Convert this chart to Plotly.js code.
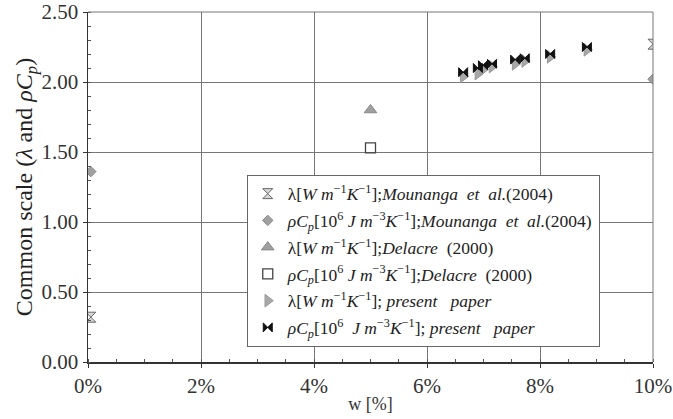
<!DOCTYPE html>
<html><head><meta charset="utf-8">
<script src="https://cdn.plot.ly/plotly-3.0.1.min.js"></script>
<style>html,body{margin:0;padding:0;background:#fff}#c{width:673px;height:419px}</style>
</head><body><div id="c"></div>
<script>
// Mounanga et al. (2004)
const mounW = [0.05, 10];
const mounLambda = [0.32, 2.27];
const mounRhoW = [0.05, 10];
const mounRho = [1.36, 2.02];
// Delacre (2000)
const delW = [5];
const delLambda = [1.80];
const delRho = [1.53];
// present paper
const presW = [6.64, 6.90, 6.99, 7.15, 7.56, 7.73, 8.18, 8.83];
const presLambda = [2.04, 2.06, 2.09, 2.11, 2.13, 2.15, 2.18, 2.23];
const presRho = [2.07, 2.10, 2.12, 2.13, 2.16, 2.17, 2.20, 2.25];

const legendNames = [
  "λ[<i>W m</i><sup>−1</sup><i>K</i><sup>−1</sup>];<i>Mounanga  et  al.</i>(2004)",
  "<i>ρC</i><sub><i>p</i></sub>[10<sup>6</sup> <i>J m</i><sup>−3</sup><i>K</i><sup>−1</sup>];<i>Mounanga  et  al.</i>(2004)",
  "λ[<i>W m</i><sup>−1</sup><i>K</i><sup>−1</sup>];<i>Delacre</i>  (2000)",
  "<i>ρC</i><sub><i>p</i></sub>[10<sup>6</sup> <i>J m</i><sup>−3</sup><i>K</i><sup>−1</sup>];<i>Delacre</i>  (2000)",
  "λ[<i>W m</i><sup>−1</sup><i>K</i><sup>−1</sup>]; <i>present   paper</i>",
  "<i>ρC</i><sub><i>p</i></sub>[10<sup>6</sup>  <i>J m</i><sup>−3</sup><i>K</i><sup>−1</sup>]; <i>present   paper</i>"
];

const serif = "Liberation Serif, Times New Roman, serif";
const traces = [
  {x: mounW, y: mounLambda, name: legendNames[0], legendgroup: 'g1', mode: 'markers',
   marker: {symbol: 'hourglass', size: 10, color: '#d8d8d8', line: {color: '#666', width: 1}}},
  {x: mounRhoW, y: mounRho, name: legendNames[1], legendgroup: 'g2', mode: 'markers',
   marker: {symbol: 'diamond', size: 8, color: '#a0a0a0', line: {color: '#888', width: 1}}},
  {x: delW, y: delLambda, name: legendNames[2], legendgroup: 'g3', mode: 'markers',
   marker: {symbol: 'triangle-up', size: 11, color: '#a0a0a0', line: {color: '#888', width: 1}}},
  {x: delW, y: delRho, name: legendNames[3], legendgroup: 'g4', mode: 'markers',
   marker: {symbol: 'square-open', size: 10, color: '#444', line: {width: 1.3}}},
  {x: presW, y: presLambda, name: legendNames[4], legendgroup: 'g5', mode: 'markers',
   marker: {symbol: 'triangle-right', size: 11, color: '#a8a8a8', line: {color: '#999', width: 1}}},
  {x: presW, y: presRho, name: legendNames[5], legendgroup: 'g6', mode: 'markers',
   marker: {symbol: 'bowtie', size: 9, color: '#111', line: {color: '#111', width: 1}}}
];

const layout = {
  width: 673, height: 419,
  margin: {l: 88, r: 20, t: 12, b: 57},
  paper_bgcolor: '#fff', plot_bgcolor: '#fff',
  font: {family: serif, color: '#333', size: 17},
  showlegend: true,
  legend: {x: 0.281, y: 0.535, xanchor: 'left', yanchor: 'top',
    bgcolor: '#fff', bordercolor: '#666', borderwidth: 1, tracegroupgap: 1,
    font: {family: serif, size: 17.5, color: '#222'}},
  xaxis: {range: [0, 10], dtick: 2, ticksuffix: '%', showgrid: true, gridcolor: '#777', gridwidth: 1,
    showline: true, linecolor: '#333', linewidth: 1.5, ticks: 'outside', ticklen: 4, tickcolor: '#333',
    zeroline: false, tickfont: {size: 21, family: serif, color: '#333'},
    minor: {dtick: 0.5, ticks: 'inside', ticklen: 3, tickcolor: '#555', showgrid: false},
    title: {text: 'w [%]', font: {size: 18, family: serif, color: '#333'}, standoff: 0}},
  yaxis: {range: [0, 2.5], dtick: 0.5, tickformat: '.2f', showgrid: true, gridcolor: '#777', gridwidth: 1,
    showline: true, linecolor: '#333', linewidth: 1.5, ticks: 'outside', ticklen: 4, tickcolor: '#333',
    zeroline: false, tickfont: {size: 21, family: serif, color: '#333'},
    minor: {dtick: 0.1, ticks: 'inside', ticklen: 3, tickcolor: '#555', showgrid: false},
    title: {text: 'Common scale (<i>λ</i> and <i>ρC</i><sub><i>p</i></sub>)', font: {size: 24, family: serif, color: '#222'}, standoff: 2}},
  shapes: [
    {type: 'line', xref: 'paper', yref: 'paper', x0: 0, x1: 1, y0: 1, y1: 1, line: {color: '#777', width: 1}},
    {type: 'line', xref: 'paper', yref: 'paper', x0: 1, x1: 1, y0: 0, y1: 1, line: {color: '#777', width: 1}}
  ]
};
Plotly.newPlot('c', traces, layout, {displayModeBar: false, staticPlot: true});
</script></body></html>
